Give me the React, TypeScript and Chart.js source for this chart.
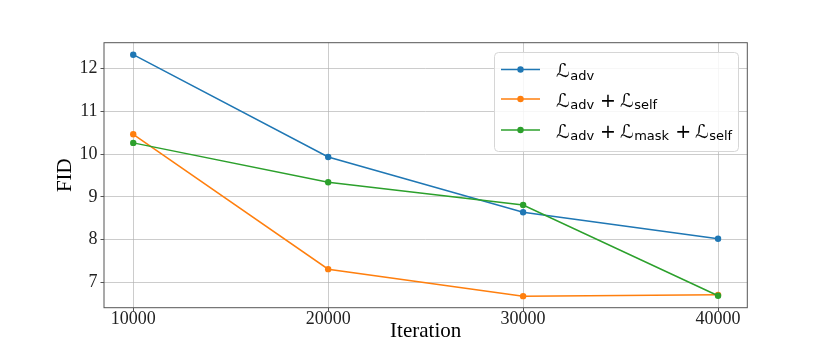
import React, { useEffect, useRef } from 'react';
import { Chart, registerables } from 'chart.js';

Chart.register(...registerables);

// ---- data ----
const iterations = [10000, 20000, 30000, 40000];
const fidAdv = [12.32, 9.93, 8.64, 8.02];
const fidAdvSelf = [10.46, 7.31, 6.68, 6.71];
const fidAdvMaskSelf = [10.26, 9.34, 8.81, 6.69];
const xTicks = [10000, 20000, 30000, 40000];
const yTicks = [7, 8, 9, 10, 11, 12];
// legend terms: each term is ℒ with a subscript
const legendTerms = [['adv'], ['adv', 'self'], ['adv', 'mask', 'self']];
const seriesLabels = legendTerms.map((t) => t.map((s) => 'ℒ' + s).join(' + '));
const xTitle = 'Iteration';
const yTitle = 'FID';

const COLORS = ['#1f77b4', '#ff7f0e', '#2ca02c'];
const SERIES = [fidAdv, fidAdvSelf, fidAdvMaskSelf];

const W = 830;
const H = 352;
const AREA = { left: 104, top: 42.7, right: 747.3, bottom: 307.7 };

const spinesPlugin = {
  id: 'spines',
  afterDatasetsDraw(chart: any) {
    const { ctx, chartArea } = chart;
    ctx.save();
    ctx.strokeStyle = '#555';
    ctx.lineWidth = 1;
    ctx.strokeRect(chartArea.left, chartArea.top, chartArea.right - chartArea.left, chartArea.bottom - chartArea.top);
    ctx.restore();
  },
};

const mathLegendPlugin = {
  id: 'mathLegend',
  afterDraw(chart: any) {
    const ctx: CanvasRenderingContext2D = chart.ctx;
    ctx.save();
    const bx = 494.5, by = 52.5, bw = 244, bh = 99, r = 4;
    ctx.beginPath();
    ctx.moveTo(bx + r, by);
    ctx.lineTo(bx + bw - r, by);
    ctx.quadraticCurveTo(bx + bw, by, bx + bw, by + r);
    ctx.lineTo(bx + bw, by + bh - r);
    ctx.quadraticCurveTo(bx + bw, by + bh, bx + bw - r, by + bh);
    ctx.lineTo(bx + r, by + bh);
    ctx.quadraticCurveTo(bx, by + bh, bx, by + bh - r);
    ctx.lineTo(bx, by + r);
    ctx.quadraticCurveTo(bx, by, bx + r, by);
    ctx.closePath();
    ctx.fillStyle = 'rgba(255,255,255,0.85)';
    ctx.fill();
    ctx.strokeStyle = '#d6d6d6';
    ctx.lineWidth = 1;
    ctx.stroke();

    const rowYs = [69.5, 99, 130];
    const bigFont = '19px "DejaVu Sans"';
    const subFont = '13px "DejaVu Sans"';
    legendTerms.forEach((terms, i) => {
      const y = rowYs[i];
      const color = COLORS[i];
      ctx.strokeStyle = color;
      ctx.lineWidth = 1.6;
      ctx.beginPath();
      ctx.moveTo(501, y);
      ctx.lineTo(540, y);
      ctx.stroke();
      ctx.fillStyle = color;
      ctx.beginPath();
      ctx.arc(520.5, y, 3.2, 0, Math.PI * 2);
      ctx.fill();

      ctx.fillStyle = '#000';
      ctx.textBaseline = 'alphabetic';
      ctx.textAlign = 'left';
      let x = 556;
      const base = y + 7.5;
      terms.forEach((sub, j) => {
        if (j > 0) {
          x += 6;
          ctx.font = bigFont;
          ctx.fillText('+', x, base);
          x += ctx.measureText('+').width + 4;
        }
        ctx.font = bigFont;
        ctx.fillText('ℒ', x, base);
        x += ctx.measureText('ℒ').width + 0.5;
        ctx.font = subFont;
        ctx.fillText(sub, x, base + 2.5);
        x += ctx.measureText(sub).width;
      });
    });
    ctx.restore();
  },
};

export default function App() {
  const ref = useRef<HTMLCanvasElement | null>(null);
  useEffect(() => {
    if (!ref.current) return;
    const chart = new Chart(ref.current, {
      type: 'line',
      data: {
        datasets: SERIES.map((s, i) => ({
          label: seriesLabels[i],
          data: iterations.map((x, k) => ({ x, y: s[k] })),
          borderColor: COLORS[i],
          backgroundColor: COLORS[i],
          borderWidth: 1.5,
          pointRadius: 3.2,
          pointBorderWidth: 0,
          pointBackgroundColor: COLORS[i],
          fill: false,
          tension: 0,
          order: 3 - i,
        })),
      },
      options: {
        responsive: false,
        animation: false,
        layout: { padding: { left: 0, top: AREA.top, right: W - AREA.right, bottom: 0 } },
        plugins: { legend: { display: false }, tooltip: { enabled: false } },
        scales: {
          x: {
            type: 'linear',
            min: 8500,
            max: 41500,
            afterBuildTicks: (scale: any) => {
              scale.ticks = xTicks.map((v) => ({ value: v }));
            },
            afterFit: (scale: any) => {
              scale.height = H - AREA.bottom;
            },
            grid: { color: 'rgba(176,176,176,0.65)', lineWidth: 1, drawTicks: true, tickLength: 3.5, tickColor: '#555' },
            border: { display: false },
            ticks: {
              color: '#222',
              font: { family: '"Liberation Serif", serif', size: 18, lineHeight: 1 },
              padding: -1,
              maxRotation: 0,
              autoSkip: false,
              callback: (v: any) => String(v),
            },
            title: {
              display: true,
              text: xTitle,
              color: '#000',
              font: { family: '"Liberation Serif", serif', size: 21, lineHeight: 1.2 },
              padding: { top: 0, bottom: 8.1 },
            },
          },
          y: {
            type: 'linear',
            min: 6.41,
            max: 12.6,
            afterBuildTicks: (scale: any) => {
              scale.ticks = yTicks.map((v) => ({ value: v }));
            },
            afterFit: (scale: any) => {
              scale.width = AREA.left;
            },
            grid: { color: 'rgba(176,176,176,0.65)', lineWidth: 1, drawTicks: true, tickLength: 3.5, tickColor: '#555' },
            border: { display: false },
            ticks: {
              color: '#222',
              font: { family: '"Liberation Serif", serif', size: 18 },
              padding: 3,
              autoSkip: false,
              callback: (v: any) => String(v),
            },
            title: {
              display: true,
              text: yTitle,
              color: '#000',
              font: { family: '"Liberation Serif", serif', size: 21, lineHeight: 1.2 },
              padding: { top: 52.4, bottom: 0 },
            },
          },
        },
      },
      plugins: [spinesPlugin, mathLegendPlugin],
    } as any);
    return () => chart.destroy();
  }, []);
  return (
    <div style={{ position: 'absolute', left: 0, top: 0, width: W, height: H, background: '#fff' }}>
      <canvas ref={ref} width={W} height={H} style={{ display: 'block' }} />
    </div>
  );
}
